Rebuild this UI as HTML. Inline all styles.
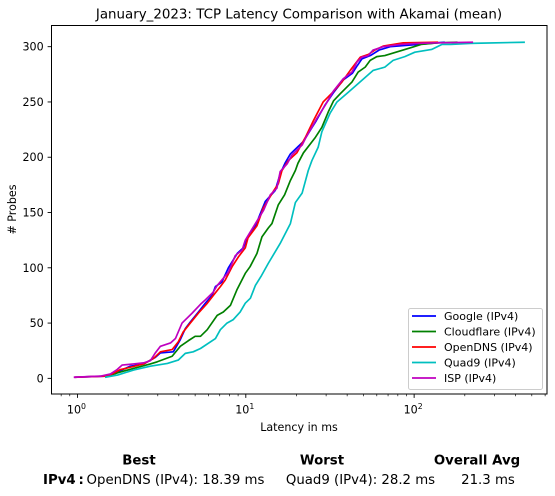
<!DOCTYPE html>
<html>
<head>
<meta charset="utf-8">
<style>
html,body{margin:0;padding:0;background:#fff;}
svg{display:block;font-family:"DejaVu Sans","Liberation Sans",sans-serif;}
</style>
</head>
<body>
<svg id="chart" width="555" height="496" viewBox="0 0 555 496" xmlns="http://www.w3.org/2000/svg">
  <rect width="555" height="496" fill="#fff"/>
  <text x="299" y="18.5" font-size="13.4" text-anchor="middle" fill="#000">January_2023: TCP Latency Comparison with Akamai (mean)</text>
  <text x="299" y="431" font-size="11.1" text-anchor="middle" fill="#000">Latency in ms</text>
  <text transform="translate(16,209.5) rotate(-90)" font-size="11.1" text-anchor="middle" fill="#000"># Probes</text>
  <g id="marks"></g>
  <g id="axes"></g>
  <g id="legend"></g>
  <g fill="#000" font-size="13.3">
    <text x="139" y="464.5" text-anchor="middle" font-weight="bold">Best</text>
    <text x="322" y="464.5" text-anchor="middle" font-weight="bold">Worst</text>
    <text x="477" y="464.5" text-anchor="middle" font-weight="bold">Overall Avg</text>
    <text x="43" y="484" font-weight="bold">IPv4</text>
    <text x="78.5" y="484" font-weight="bold">:</text>
    <text x="175.5" y="484" text-anchor="middle">OpenDNS (IPv4): 18.39 ms</text>
    <text x="360.5" y="484" text-anchor="middle">Quad9 (IPv4): 28.2 ms</text>
    <text x="488" y="484" text-anchor="middle">21.3 ms</text>
  </g>
</svg>
<script>
const googleLatency = [0.96,1.47,1.80,2.06,2.47,2.90,3.11,3.71,4.08,4.37,4.68,5.23,5.75,6.30,6.60,7.20,7.88,8.90,9.66,10.2,11.65,11.9,13.05,14.96,16.0,17.15,18.4,21.9,26.2,29.5,33,38,43,46,49,55,62,72,95,125,152];
const googleProbes = [1,2,7,11,13,19,23,24,35,45,51,60,68,75,83,87,100,113,118,127,140,145,160,170,185,195,203,214,233,247,258,270,276,283,289,292,297,300,301.5,303,304];
const cloudflareLatency = [1.46,1.73,2.15,2.71,2.98,3.65,4.08,4.55,5.0,5.38,5.9,6.76,7.35,8.1,8.85,9.93,10.6,11.65,12.47,13.6,14.3,15.6,17.0,18.4,19.7,20.4,22,25.9,28.3,30.9,33.2,36.4,42.7,46.5,51.2,54.8,60,67,78,95,110,139,181];
const cloudflareProbes = [1,5,9,13,15,20,29,34,38,38,44,57,60,66,80,95,101,113,128,136,140,157,166,179,188,194.5,204,218,227,241,251,257.5,268,277,281.5,287.6,291,292,295,299,302,303.5,304];
const opendnsLatency = [0.96,1.47,1.61,1.80,1.93,2.47,2.83,3.11,3.65,3.97,4.25,4.68,5.23,5.91,6.41,7.06,7.55,8.29,9.05,9.93,10.3,11.65,12.7,14.55,15.6,16.4,17.9,20.1,22.6,25.2,28.8,32.5,37.2,41.7,47.9,53.5,58.5,65.5,86,139];
const opendnsProbes = [1,2,4,8,9,13,18,24,26,33,42,50,59,68,75,83,89,101,110,118,127,138,154,169,176,188,197,204,218,233,250,258,268,278.5,290.5,293,297,300.5,303.5,304];
const quad9Latency = [1.46,1.73,2.15,2.71,3.42,3.97,4.37,4.87,5.38,6.6,7.06,7.73,8.4,9.25,9.93,10.65,11.4,12.4,13.6,16.0,18.4,19.7,21.6,23.5,24.7,26.9,28.3,31.7,34.8,40.8,48.9,57,67,75,88,101,127,146,165,215,455];
const quad9Probes = [1,3,7.5,11,13.5,16.5,22.6,24,27,36,44,50,53,60,68,72.5,84,93,104,122,140,159,167.5,188,197,209,223,240,250,259,269.5,278.5,281.5,287.6,291,295,297.5,302,302,303,304];
const ispLatency = [0.95,1.37,1.57,1.72,1.84,2.15,2.47,2.71,2.90,3.11,3.57,3.82,4.18,4.80,5.38,5.75,6.41,6.76,7.88,8.66,9.50,9.93,11.4,12.75,13.98,15.3,16.0,17.6,18.8,21.6,22.6,26.4,29.6,33.2,37.9,42.7,45.7,48.9,53.4,57.1,65.5,82.6,103.8,139,224];
const ispProbes = [1,2,4,8,12,13,14,16,23,29,32,36,50,59,67,71,78,84,96,111,116,125,140,152,166,172,187,194,202,211,217,235,247,260,271,277,286,290.5,292,297,300,302,303,303.5,304];
const seriesNames = ["Google (IPv4)","Cloudflare (IPv4)","OpenDNS (IPv4)","Quad9 (IPv4)","ISP (IPv4)"];
const seriesKeys = ["google","cloudflare","opendns","quad9","isp"];
const seriesColors = ["#0000ff","#008000","#ff0000","#00bfbf","#bf00bf"];
const yTickValues = [0,50,100,150,200,250,300];
const xTickExponents = [0,1,2];

const plot = {left:51.5, right:547, top:25.5, bottom:394};
const xLogMin = -0.1543, xLogMax = 2.7893;
const yMin = -14.15, yMax = 319.15;
const NS = "http://www.w3.org/2000/svg";

function xScale(v){
  return plot.left + (Math.log10(v) - xLogMin) / (xLogMax - xLogMin) * (plot.right - plot.left);
}
function yScale(v){
  return plot.bottom - (v - yMin) / (yMax - yMin) * (plot.bottom - plot.top);
}
function make(tag, attrs, parent){
  const el = document.createElementNS(NS, tag);
  for (const k in attrs) el.setAttribute(k, attrs[k]);
  parent.appendChild(el);
  return el;
}

const marks = document.getElementById("marks");
const axes = document.getElementById("axes");
const legend = document.getElementById("legend");
const allLatency = [googleLatency,cloudflareLatency,opendnsLatency,quad9Latency,ispLatency];
const allProbes = [googleProbes,cloudflareProbes,opendnsProbes,quad9Probes,ispProbes];

allLatency.forEach(function(lat, s){
  const pts = lat.map(function(v, i){ return xScale(v).toFixed(2) + "," + yScale(allProbes[s][i]).toFixed(2); }).join(" ");
  const line = make("polyline", {points:pts, fill:"none", stroke:seriesColors[s], "stroke-width":1.67, "stroke-linejoin":"round"}, marks);
  
  
});

const frame = make("rect", {x:plot.left, y:plot.top, width:plot.right-plot.left, height:plot.bottom-plot.top, fill:"none", stroke:"#000", "stroke-width":1}, axes);



yTickValues.forEach(function(v){
  const y = yScale(v);
  const tick = make("line", {x1:plot.left-3.9, x2:plot.left, y1:y, y2:y, stroke:"#000", "stroke-width":0.9}, axes);
  
  
  const label = make("text", {x:plot.left-7.8, y:y+4, "font-size":11.1, "text-anchor":"end", fill:"#000"}, axes);
  label.textContent = String(v);
  
  
});

for (let e = -1; e <= 2; e++){
  for (let m = 2; m <= 9; m++){
    const v = m * Math.pow(10, e);
    const x = xScale(v);
    if (x < plot.left || x > plot.right) continue;
    const minor = make("line", {x1:x, x2:x, y1:plot.bottom, y2:plot.bottom+2.2, stroke:"#000", "stroke-width":0.67}, axes);
    
    
  }
}
xTickExponents.forEach(function(e){
  const x = xScale(Math.pow(10, e));
  const tick = make("line", {x1:x, x2:x, y1:plot.bottom, y2:plot.bottom+3.9, stroke:"#000", "stroke-width":0.9}, axes);
  
  
  const label = make("text", {x:x-1, y:plot.bottom+19.5, "font-size":11.1, "text-anchor":"middle", fill:"#000"}, axes);
  
  
  const base = make("tspan", {}, label);
  base.textContent = "10";
  const exp = make("tspan", {dy:-4.5, "font-size":7.8}, label);
  exp.textContent = String(e);
});

const legendBox = make("rect", {x:408.5, y:308.5, width:134, height:81, rx:2, fill:"#fff", "fill-opacity":0.9, stroke:"#ccc", "stroke-width":1}, legend);


seriesNames.forEach(function(name, i){
  const y = 316 + i * 15.5;
  const handle = make("line", {x1:412, x2:436, y1:y, y2:y, stroke:seriesColors[i], "stroke-width":1.67}, legend);
  
  
  const text = make("text", {x:444, y:y+4, "font-size":11, fill:"#000"}, legend);
  text.textContent = name;
  
  
});
</script>
</body>
</html>
